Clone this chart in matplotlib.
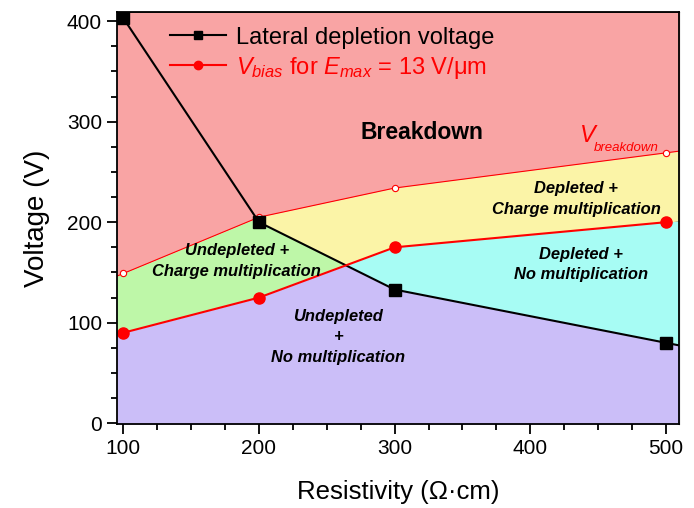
import numpy as np
import matplotlib
matplotlib.use("Agg")
from matplotlib import pyplot as plt
from matplotlib.ticker import MultipleLocator

plt.rcParams['font.family'] = ['Liberation Sans', 'DejaVu Sans']
plt.rcParams['mathtext.fontset'] = 'custom'
plt.rcParams['mathtext.rm'] = 'Liberation Sans'
plt.rcParams['mathtext.it'] = 'Liberation Sans:italic'
plt.rcParams['mathtext.bf'] = 'Liberation Sans:bold'

# data
resistivity = [100, 200, 300, 500]
v_lateral = [403, 200, 133, 80]
v_bias = [90, 125, 175, 200]
v_breakdown = [149, 205, 234, 269]

x_lo, x_hi = 95, 510
y_lo, y_hi = -1, 409


def ext(xs, ys):
    # extend a polyline linearly to the axis edges
    xs = list(xs); ys = list(ys)
    s0 = (ys[1] - ys[0]) / (xs[1] - xs[0])
    s1 = (ys[-1] - ys[-2]) / (xs[-1] - xs[-2])
    return ([x_lo] + xs + [x_hi],
            [ys[0] - s0 * (xs[0] - x_lo)] + ys + [ys[-1] + s1 * (x_hi - xs[-1])])


xl, yl = ext(resistivity, v_lateral)
xb, yb = ext(resistivity, v_bias)
xk, yk = ext(resistivity, v_breakdown)

xx = np.linspace(x_lo, x_hi, 2000)
lat = np.interp(xx, xl, yl)
bia = np.interp(xx, xb, yb)
brk = np.interp(xx, xk, yk)

fig = plt.figure(figsize=(6.94, 5.08), dpi=100)
ax = fig.add_axes([0.168, 0.165, 0.811, 0.811])

pink = '#F9A4A4'
yellow = '#FBF4A7'
green = '#BEF7A8'
cyan = '#A7FCF4'
purple = '#CBBEF8'

ax.fill_between(xx, brk, y_hi, color=pink, lw=0)
top_g = np.minimum(lat, brk)
ax.fill_between(xx, bia, top_g, where=top_g > bia, color=green, lw=0, interpolate=True)
low_y = np.maximum(lat, bia)
ax.fill_between(xx, low_y, brk, where=brk > low_y, color=yellow, lw=0, interpolate=True)
ax.fill_between(xx, lat, bia, where=bia > lat, color=cyan, lw=0, interpolate=True)
ax.fill_between(xx, y_lo, np.minimum(lat, bia), color=purple, lw=0)

ax.plot(xk, yk, color='red', lw=0.8)
ax.plot(resistivity, v_breakdown, 'o', ms=4.5, mfc='white', mec='red', mew=0.8)
ax.plot(xl, yl, color='black', lw=1.5, marker='s', ms=8, markevery=[1, 2, 3, 4],
        label='Lateral depletion voltage')
ax.plot(xb[1:-1], yb[1:-1], color='red', lw=1.5, marker='o', ms=8,
        label='$V_{bias}$ for $E_{max}$ = 13 V/\u03bcm')

leg = ax.legend(loc='upper left', bbox_to_anchor=(0.065, 1.005), frameon=False,
                fontsize=17, handlelength=2.4, handletextpad=0.4, markerscale=0.75,
                borderaxespad=0.3, labelspacing=0.25)
for t, c in zip(leg.get_texts(), ['black', 'red']):
    t.set_color(c)

ax.text(320, 289, 'Breakdown', fontsize=16.5, fontweight='bold', ha='center', va='center')
ax.text(442.5, 286, 'V', fontsize=17, color='red', style='italic', ha='center', va='center')
ax.text(447, 274, 'breakdown', fontsize=9.5, color='red', style='italic', ha='left', va='center')
kw = dict(fontsize=11.9, fontweight='bold', style='italic', ha='center', va='center',
          linespacing=1.45)
ax.text(183.6, 161.5, 'Undepleted +\nCharge multiplication', **kw)
ax.text(434, 223, 'Depleted +\nCharge multiplication', **kw)
ax.text(437.7, 158, 'Depleted +\nNo multiplication', **kw)
ax.text(258.6, 86, 'Undepleted\n+\nNo multiplication', **kw)

ax.set_xlim(x_lo, x_hi)
ax.set_ylim(y_lo, y_hi)
ax.xaxis.set_major_locator(MultipleLocator(100))
ax.xaxis.set_minor_locator(MultipleLocator(25))
ax.yaxis.set_major_locator(MultipleLocator(100))
ax.yaxis.set_minor_locator(MultipleLocator(25))
ax.tick_params(which='both', direction='out', top=False, right=False, width=1.3, labelsize=15)
ax.tick_params(which='major', length=7)
ax.tick_params(which='minor', length=4)
ax2 = ax.secondary_xaxis('top')
ax2.xaxis.set_major_locator(MultipleLocator(100))
ax2.xaxis.set_minor_locator(MultipleLocator(25))
ax2.tick_params(which='both', direction='in', width=1.3, labeltop=False)
ax2.tick_params(which='major', length=7)
ax2.tick_params(which='minor', length=4)
ax3 = ax.secondary_yaxis('right')
ax3.yaxis.set_major_locator(MultipleLocator(100))
ax3.yaxis.set_minor_locator(MultipleLocator(25))
ax3.tick_params(which='both', direction='in', width=1.3, labelright=False)
ax3.tick_params(which='major', length=7)
ax3.tick_params(which='minor', length=4)
for s in ax.spines.values():
    s.set_linewidth(1.3)

ax.set_xlabel('Resistivity (\u03a9\u00b7cm)', fontsize=18.5, labelpad=16)
ax.set_ylabel('Voltage (V)', fontsize=20, labelpad=12)

fig.savefig('out.png', dpi=100)
